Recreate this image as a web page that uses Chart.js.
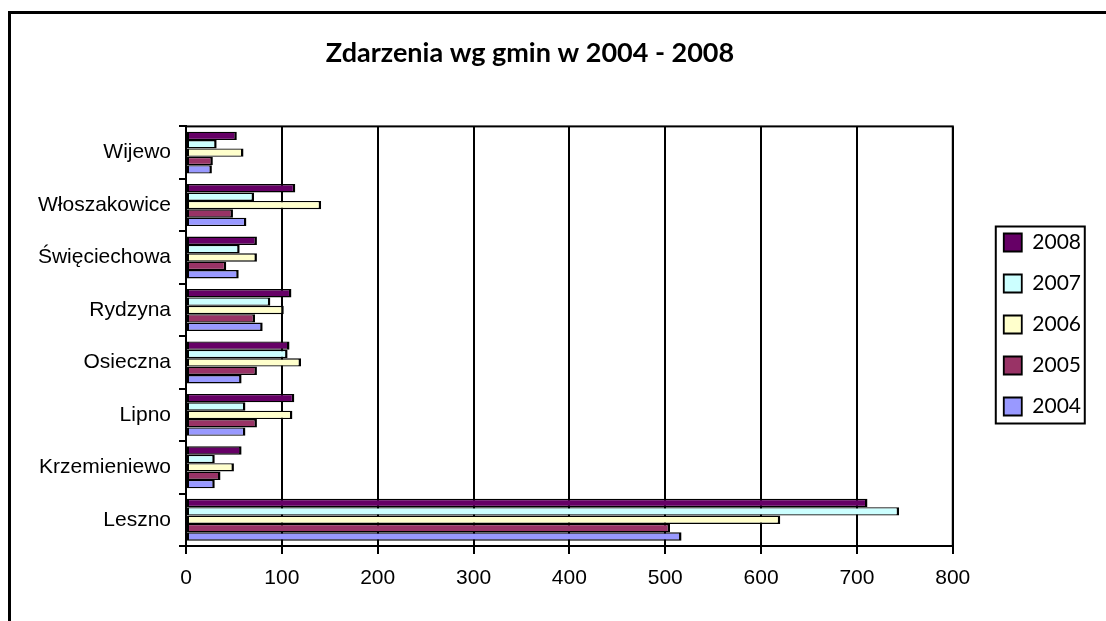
<!DOCTYPE html>
<html>
<head>
<meta charset="utf-8">
<script src="https://cdn.jsdelivr.net/npm/chart.js@4.4.1/dist/chart.umd.min.js"></script>
<style>
  html, body { margin: 0; padding: 0; background: #fff; overflow: hidden; }
  #wrap { position: relative; width: 1106px; height: 621px; }
  #frame { position: absolute; left: 8px; top: 11px; width: 1200px; height: 700px; border: 3px solid #000; box-sizing: border-box; }
  canvas { position: absolute; left: 0; top: 0; }
</style>
</head>
<body>
<div id="wrap">
  <div id="frame"></div>
  <canvas id="myChart" width="1106" height="621"></canvas>
</div>
<script>
// gminy, od góry do dołu
const gminy = ['Wijewo', 'Włoszakowice', 'Święciechowa', 'Rydzyna', 'Osieczna', 'Lipno', 'Krzemieniewo', 'Leszno'];
const lata = ['2008', '2007', '2006', '2005', '2004'];

const r2008 = [53, 114, 74, 110, 108, 113, 58, 711];
const r2007 = [32, 71, 56, 88, 106, 62, 30, 744];
const r2006 = [60, 141, 74, 102, 120, 111, 50, 620];
const r2005 = [28, 49, 42, 72, 74, 74, 36, 505];
const r2004 = [27, 63, 55, 80, 58, 62, 30, 517];

const xTicks = [0, 100, 200, 300, 400, 500, 600, 700, 800];

const kolory = ['#660066', '#CCFFFF', '#FFFFCC', '#993366', '#9999FF'];
const serie = [r2008, r2007, r2006, r2005, r2004];

// ramka wykresu + ramka legendy
const ramki = {
  id: 'ramki',
  afterLayout(chart) {
    // legenda przesunieta w prawo i troche w dol
    const lg = chart.legend;
    lg.left += 31; lg.right += 31;
    lg.top += 14; lg.bottom += 14;
  },
  afterDraw(chart) {
    const ctx = chart.ctx;
    const a = chart.chartArea;
    ctx.save();
    ctx.strokeStyle = '#000';
    ctx.lineWidth = 2;
    ctx.strokeRect(a.left, a.top, a.right - a.left, a.bottom - a.top);
    const lg = chart.legend;
    const l = lg.left + 20 - 8;
    const midY = (lg.top + lg.bottom) / 2;
    ctx.strokeRect(l, midY - 98, 89, 197);
    ctx.restore();
  }
};

new Chart(document.getElementById('myChart'), {
  type: 'bar',
  data: {
    labels: gminy,
    datasets: lata.map((rok, i) => ({
      label: rok,
      data: serie[i],
      backgroundColor: kolory[i],
      borderColor: '#000',
      borderWidth: { top: 1.4, bottom: 1.4, left: 2, right: 2.5 },
      borderSkipped: false,
      categoryPercentage: 0.8,
      barPercentage: 1.0
    }))
  },
  options: {
    indexAxis: 'y',
    responsive: false,
    animation: false,
    layout: { padding: { left: 0, right: 46, top: 0, bottom: 0 } },
    plugins: {
      title: {
        display: true,
        text: 'Zdarzenia wg gmin w 2004 - 2008',
        color: '#000',
        font: { family: 'Lato', size: 27, weight: 'bold' },
        padding: { top: 37, bottom: 57 }
      },
      legend: {
        position: 'right',
        labels: {
          color: '#000',
          font: { family: 'Lato', size: 21 },
          boxWidth: 18,
          boxHeight: 18,
          padding: 20
        }
      },
      tooltip: { enabled: false }
    },
    scales: {
      x: {
        min: 0,
        max: 800,
        afterBuildTicks: (s) => { s.ticks = xTicks.map(v => ({ value: v })); },
        afterFit: (s) => { s.height = 75; },
        grid: { color: '#000', lineWidth: 2, tickLength: 8 },
        border: { color: '#000', width: 2 },
        ticks: { color: '#000', font: { family: 'Liberation Sans', size: 21 }, padding: 12 }
      },
      y: {
        afterFit: (s) => { s.width = 186; },
        grid: { offset: true, drawOnChartArea: false, color: '#000', lineWidth: 2, tickLength: 7 },
        border: { color: '#000', width: 2 },
        ticks: { color: '#000', font: { family: 'Liberation Sans', size: 21 }, padding: 8 }
      }
    }
  },
  plugins: [ramki]
});
</script>
</body>
</html>
